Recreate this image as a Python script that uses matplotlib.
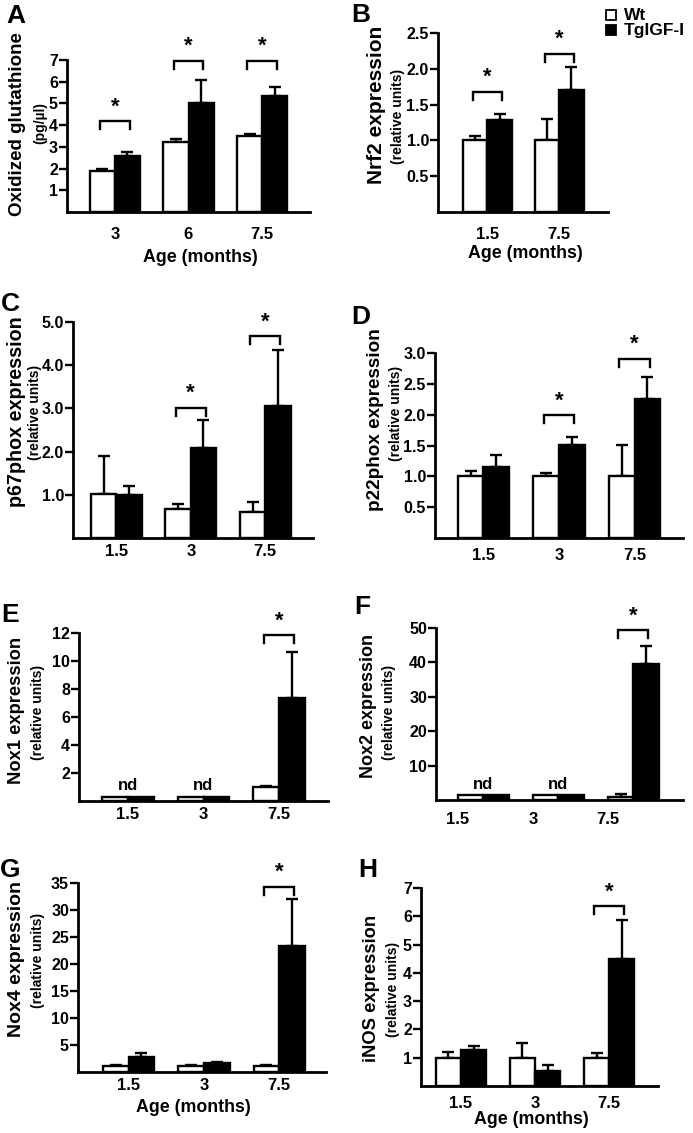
import matplotlib
matplotlib.use('Agg')
import matplotlib.pyplot as plt
from matplotlib.lines import Line2D
import numpy as np

plt.rcParams['font.family'] = ['Liberation Sans', 'DejaVu Sans']
plt.rcParams['font.weight'] = 'bold'

W, H = 693, 1133

# ---- data ----
# A: oxidized glutathione
ages_a = ['3', '6', '7.5']
wt_a = [1.87, 3.21, 3.49]
wt_a_err = [0.13, 0.15, 0.09]
tg_a = [2.58, 5.01, 5.36]
tg_a_err = [0.20, 1.06, 0.40]
sig_a = [(0, 4.18), (1, 6.97), (2, 6.97)]

# B: Nrf2
ages_b = ['1.5', '7.5']
wt_b = [1.00, 1.00]
wt_b_err = [0.06, 0.30]
tg_b = [1.29, 1.70]
tg_b_err = [0.08, 0.32]
sig_b = [(0, 1.68), (1, 2.21)]

# C: p67phox
ages_c = ['1.5', '3', '7.5']
wt_c = [1.03, 0.67, 0.60]
wt_c_err = [0.87, 0.12, 0.23]
tg_c = [1.00, 2.08, 3.06]
tg_c_err = [0.20, 0.65, 1.29]
sig_c = [(1, 3.01), (2, 4.67)]

# D: p22phox
ages_d = ['1.5', '3', '7.5']
wt_d = [1.00, 1.00, 1.00]
wt_d_err = [0.09, 0.05, 0.51]
tg_d = [1.15, 1.51, 2.25]
tg_d_err = [0.20, 0.13, 0.36]
sig_d = [(1, 1.99), (2, 2.90)]

# E: Nox1
ages_e = ['1.5', '3', '7.5']
wt_e = [0.30, 0.30, 1.02]
wt_e_err = [0.0, 0.0, 0.07]
tg_e = [0.30, 0.30, 7.36]
tg_e_err = [0.0, 0.0, 3.31]
sig_e = [(2, 11.83)]
nd_e = [0, 1]

# F: Nox2
ages_f = ['1.5', '3', '7.5']
wt_f = [1.40, 1.40, 0.97]
wt_f_err = [0.0, 0.0, 0.80]
tg_f = [1.40, 1.40, 39.6]
tg_f_err = [0.0, 0.0, 5.1]
sig_f = [(2, 49.3)]
nd_f = [0, 1]

# G: Nox4
ages_g = ['1.5', '3', '7.5']
wt_g = [1.11, 1.05, 1.11]
wt_g_err = [0.25, 0.18, 0.12]
tg_g = [2.72, 1.60, 23.27]
tg_g_err = [0.80, 0.19, 8.73]
sig_g = [(2, 34.26)]

# H: iNOS
ages_h = ['1.5', '3', '7.5']
wt_h = [1.00, 1.00, 1.00]
wt_h_err = [0.19, 0.52, 0.15]
tg_h = [1.29, 0.53, 4.48]
tg_h_err = [0.13, 0.21, 1.38]
sig_h = [(2, 6.35)]

legend_labels = ['Wt', 'TgIGF-I']

panels = [
    dict(letter='A', ages=ages_a, wt=wt_a, wte=wt_a_err, tg=tg_a, tge=tg_a_err, sig=sig_a, nd=[],
         ylab='Oxidized glutathione', sub='(pg/\u00b5l)', ymax=7, yticks=[1, 2, 3, 4, 5, 6, 7], fmt='{:g}',
         box=(67, 60, 310, 212), xlim=(-0.65, 2.65), lab=(18, 124, 13.5), subpos=(40, 123),
         letpos=(6, 4), xlabel=(200, 257), tickoff=0, pad=11),
    dict(letter='B', ages=ages_b, wt=wt_b, wte=wt_b_err, tg=tg_b, tge=tg_b_err, sig=sig_b, nd=[],
         ylab='Nrf2 expression', sub='(relative units)', ymax=2.5, yticks=[0.5, 1.0, 1.5, 2.0, 2.5],
         fmt='{:.1f}', box=(438, 33, 608, 212), xlim=(-0.69, 1.68), lab=(376, 105, 15), subpos=(398, 116),
         letpos=(351, 3), xlabel=(525, 254), tickoff=0, pad=11),
    dict(letter='C', ages=ages_c, wt=wt_c, wte=wt_c_err, tg=tg_c, tge=tg_c_err, sig=sig_c, nd=[],
         ylab='p67phox expression', sub='(relative units)', ymax=5, yticks=[1, 2, 3, 4, 5],
         fmt='{:.1f}', box=(73, 322, 313, 538), xlim=(-0.58, 2.64), lab=(17, 412, 14.2), subpos=(35, 412),
         letpos=(1, 292), xlabel=None, tickoff=0, pad=4),
    dict(letter='D', ages=ages_d, wt=wt_d, wte=wt_d_err, tg=tg_d, tge=tg_d_err, sig=sig_d, nd=[],
         ylab='p22phox expression', sub='(relative units)', ymax=3, yticks=[0.5, 1.0, 1.5, 2.0, 2.5, 3.0],
         fmt='{:.1f}', box=(435, 353, 683, 538), xlim=(-0.64, 2.64), lab=(376, 420, 13.6), subpos=(396, 413),
         letpos=(351, 305), xlabel=None, tickoff=0, pad=7),
    dict(letter='E', ages=ages_e, wt=wt_e, wte=wt_e_err, tg=tg_e, tge=tg_e_err, sig=sig_e, nd=nd_e,
         ylab='Nox1 expression', sub='(relative units)', ymax=12, yticks=[2, 4, 6, 8, 10, 12],
         fmt='{:g}', box=(79, 633, 328, 801), xlim=(-0.65, 2.65), lab=(17, 710, 13.2), subpos=(38, 712),
         letpos=(1, 603), xlabel=None, tickoff=0, pad=4),
    dict(letter='F', ages=ages_f, wt=wt_f, wte=wt_f_err, tg=tg_f, tge=tg_f_err, sig=sig_f, nd=nd_f,
         ylab='Nox2 expression', sub='(relative units)', ymax=50, yticks=[10, 20, 30, 40, 50],
         fmt='{:g}', box=(436, 628, 683, 800), xlim=(-0.63, 2.66), lab=(368, 706, 13), subpos=(389, 712),
         letpos=(354, 595), xlabel=None, tickoff=-0.34, pad=9),
    dict(letter='G', ages=ages_g, wt=wt_g, wte=wt_g_err, tg=tg_g, tge=tg_g_err, sig=sig_g, nd=[],
         ylab='Nox4 expression', sub='(relative units)', ymax=35, yticks=[5, 10, 15, 20, 25, 30, 35],
         fmt='{:g}', box=(78, 883, 326, 1072), xlim=(-0.67, 2.62), lab=(17, 959, 14), subpos=(38, 960),
         letpos=(0, 858), xlabel=(193, 1108), tickoff=0, pad=4),
    dict(letter='H', ages=ages_h, wt=wt_h, wte=wt_h_err, tg=tg_h, tge=tg_h_err, sig=sig_h, nd=[],
         ylab='iNOS expression', sub='(relative units)', ymax=7, yticks=[1, 2, 3, 4, 5, 6, 7],
         fmt='{:g}', box=(421, 888, 658, 1086), xlim=(-0.54, 2.66), lab=(372, 988, 13.2), subpos=(393, 989),
         letpos=(358, 858), xlabel=(531, 1120), tickoff=0, pad=7),
]

fig = plt.figure(figsize=(W / 100, H / 100), dpi=100)
lw = 1.7
bw = 0.34
tick_fs = 11.5


def fx(px):
    return px / W


def fy(py):
    return 1 - py / H


for p in panels:
    l, t, r, b = p['box']
    ax = fig.add_axes([fx(l), fy(b), (r - l) / W, (b - t) / H])
    x = np.arange(len(p['ages']))
    ax.bar(x - bw / 2, p['wt'], bw, color='white', edgecolor='black', linewidth=lw, zorder=2)
    ax.bar(x + bw / 2, p['tg'], bw, color='black', edgecolor='black', linewidth=lw, zorder=2)
    for xs, vals, errs in [(x - bw / 2, p['wt'], p['wte']), (x + bw / 2, p['tg'], p['tge'])]:
        errs = np.array(errs)
        keep = errs > 0
        ax.errorbar(xs[keep], np.array(vals)[keep], yerr=[np.zeros(keep.sum()), errs[keep]],
                    fmt='none', ecolor='black', elinewidth=lw, capsize=4, capthick=lw, zorder=1)

    ymax = p['ymax']
    ax.set_ylim(0, ymax)
    ax.set_xlim(*p['xlim'])
    ax.set_yticks(p['yticks'])
    ax.set_yticklabels([p['fmt'].format(v) for v in p['yticks']], fontsize=tick_fs, fontweight='bold')
    ax.set_xticks(x + p['tickoff'])
    ax.set_xticklabels(p['ages'], fontsize=12, fontweight='bold')
    ax.tick_params(axis='x', length=0, pad=p['pad'])
    ax.tick_params(axis='y', length=5.5, width=lw, direction='out', pad=1)
    for s in ['top', 'right']:
        ax.spines[s].set_visible(False)
    for s in ['left', 'bottom']:
        ax.spines[s].set_linewidth(2)

    # significance brackets
    leg = 8.0 / (b - t) * ymax
    for g, yb in p['sig']:
        ax.plot([g - 0.2, g - 0.2, g + 0.2, g + 0.2], [yb - leg, yb, yb, yb - leg],
                color='black', lw=lw, clip_on=False, solid_joinstyle='miter')
        ax.text(g, yb + 0.5 * leg, '*', ha='center', va='bottom', fontsize=16, fontweight='bold')

    for g in p['nd']:
        top = max(p['wt'][g], p['tg'][g])
        ax.text(g, top + 0.02 * ymax, 'nd', ha='center', va='bottom', fontsize=12, fontweight='bold')

    # labels
    lx, ly, lfs = p['lab']
    fig.text(fx(lx), fy(ly), p['ylab'], rotation=90, ha='center', va='center', fontsize=lfs, fontweight='bold')
    sx, sy = p['subpos']
    fig.text(fx(sx), fy(sy), p['sub'], rotation=90, ha='center', va='center', fontsize=10, fontweight='bold')
    px_, py_ = p['letpos']
    fig.text(fx(px_), fy(py_), p['letter'], ha='left', va='top', fontsize=19, fontweight='bold')
    if p['xlabel'] is not None:
        xx, xy = p['xlabel']
        fig.text(fx(xx), fy(xy), 'Age (months)', ha='center', va='center', fontsize=12.8, fontweight='bold')

# legend (top right)
for i, (lab, face) in enumerate(zip(legend_labels, ['white', 'black'])):
    yy = fy(15 + 15 * i)
    fig.add_artist(Line2D([fx(611)], [yy], marker='s', ls='none', markersize=6.5, markerfacecolor=face,
                          markeredgecolor='black', markeredgewidth=1.3))
    fig.text(fx(624), yy, lab, ha='left', va='center', fontsize=12.5, fontweight='bold')

fig.savefig('out.png', dpi=100)
